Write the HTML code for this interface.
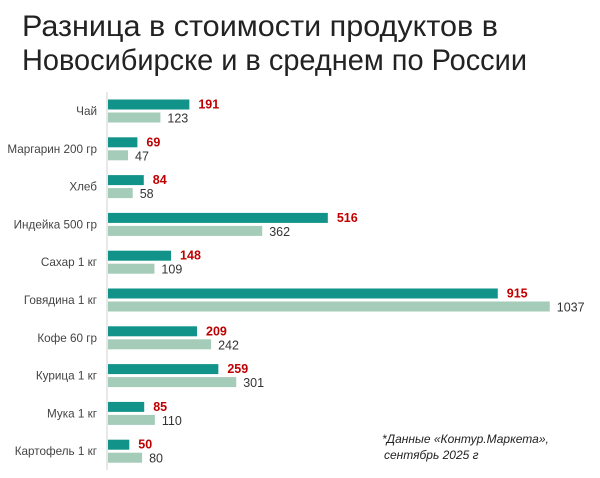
<!DOCTYPE html>
<html><head><meta charset="utf-8"><style>
body{margin:0;background:#fff;width:600px;height:473px;overflow:hidden}
text{font-family:"Liberation Sans",sans-serif}
</style></head><body>
<svg width="600" height="473" xmlns="http://www.w3.org/2000/svg">
<text x="22" y="36" font-size="29.5" fill="#222" textLength="476" lengthAdjust="spacingAndGlyphs">Разница в стоимости продуктов в</text>
<text x="22" y="70" font-size="29.5" fill="#222" textLength="505" lengthAdjust="spacingAndGlyphs">Новосибирске и в среднем по России</text>
<line x1="107" y1="92" x2="107" y2="470" stroke="#d0d0d0" stroke-width="1"/>
<g id="rows"></g>
<text x="382" y="443" font-size="12" font-style="italic" fill="#222">*Данные «Контур.Маркета»,</text>
<text x="384" y="459" font-size="12" font-style="italic" fill="#222">сентябрь 2025 г</text>
</svg>
<script>
var d=[["Чай",191,123],["Маргарин 200 гр",69,47],["Хлеб",84,58],["Индейка 500 гр",516,362],["Сахар 1 кг",148,109],["Говядина 1 кг",915,1037],["Кофе 60 гр",209,242],["Курица 1 кг",259,301],["Мука 1 кг",85,110],["Картофель 1 кг",50,80]];
var g=document.getElementById("rows"),s="",k=0.426;
d.forEach(function(r,i){var y=99.5+i*37.8;var w1=r[1]*k,w2=r[2]*k;
s+='<rect x="108" y="'+y+'" width="'+w1+'" height="10" fill="#12938a"/>';
s+='<rect x="108" y="'+(y+13)+'" width="'+w2+'" height="10" fill="#a5cbb9"/>';
s+='<text x="97" y="'+(y+15.5)+'" font-size="11.7" fill="#444" text-anchor="end">'+r[0]+'</text>';
s+='<text x="'+(108+w1+9)+'" y="'+(y+9)+'" font-size="12.5" font-weight="bold" fill="#c00000">'+r[1]+'</text>';
s+='<text x="'+(108+w2+7)+'" y="'+(y+23)+'" font-size="12.5" fill="#333">'+r[2]+'</text>';});
g.innerHTML=s;
</script>
</body></html>
